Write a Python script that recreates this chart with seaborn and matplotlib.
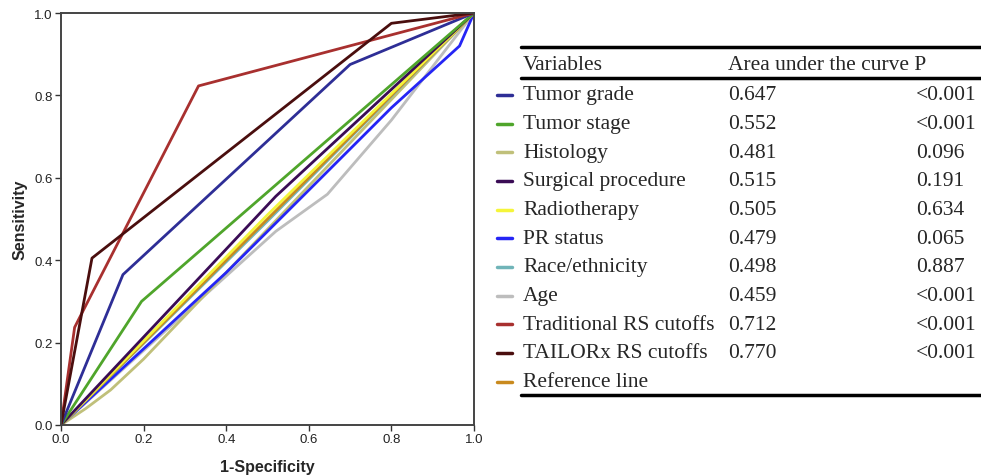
import numpy as np
import pandas as pd
import matplotlib
matplotlib.use("Agg")
import matplotlib.pyplot as plt
from matplotlib.lines import Line2D
import seaborn as sns

# ---- data ----
variables = ["Tumor grade", "Tumor stage", "Histology", "Surgical procedure",
             "Radiotherapy", "PR status", "Race/ethnicity", "Age",
             "Traditional RS cutoffs", "TAILORx RS cutoffs", "Reference line"]
auc = ["0.647", "0.552", "0.481", "0.515", "0.505", "0.479", "0.498", "0.459",
       "0.712", "0.770", ""]
pvals = ["<0.001", "<0.001", "0.096", "0.191", "0.634", "0.065", "0.887",
         "<0.001", "<0.001", "<0.001", ""]
colors = ["#2E2E96", "#4FA52B", "#C0C07A", "#3A0C55", "#F5F53A", "#2525F5",
          "#70B4B8", "#BDBDBD", "#A8302F", "#4A0E0E", "#C98A1E"]

fpr_grade = [0.0, 0.15, 0.70, 1.0]
tpr_grade = [0.0, 0.365, 0.875, 1.0]
fpr_stage = [0.0, 0.195, 1.0]
tpr_stage = [0.0, 0.30, 1.0]
fpr_hist = [0.0, 0.06, 0.12, 0.20, 1.0]
tpr_hist = [0.0, 0.04, 0.085, 0.16, 1.0]
fpr_surg = [0.0, 0.52, 1.0]
tpr_surg = [0.0, 0.555, 1.0]
fpr_radio = [0.0, 0.5, 1.0]
tpr_radio = [0.0, 0.51, 1.0]
fpr_pr = [0.0, 0.40, 0.65, 0.80, 0.965, 1.0]
tpr_pr = [0.0, 0.37, 0.62, 0.77, 0.92, 1.0]
fpr_race = [0.0, 0.5, 1.0]
tpr_race = [0.0, 0.495, 1.0]
fpr_age = [0.0, 0.52, 0.645, 0.80, 1.0]
tpr_age = [0.0, 0.47, 0.56, 0.74, 1.0]
fpr_trad = [0.0, 0.033, 0.06, 0.333, 1.0]
tpr_trad = [0.0, 0.237, 0.29, 0.823, 1.0]
fpr_tailor = [0.0, 0.075, 0.80, 1.0]
tpr_tailor = [0.0, 0.405, 0.975, 1.0]
fpr_ref = [0.0, 1.0]
tpr_ref = [0.0, 1.0]

curves = [(fpr_grade, tpr_grade), (fpr_stage, tpr_stage), (fpr_hist, tpr_hist),
          (fpr_surg, tpr_surg), (fpr_radio, tpr_radio), (fpr_pr, tpr_pr),
          (fpr_race, tpr_race), (fpr_age, tpr_age), (fpr_trad, tpr_trad),
          (fpr_tailor, tpr_tailor), (fpr_ref, tpr_ref)]

rows = []
for name, (xs, ys) in zip(variables, curves):
    for i, (x, y) in enumerate(zip(xs, ys)):
        rows.append({"var": name, "order": i, "fpr": x, "tpr": y})
df = pd.DataFrame(rows)

sns.set_theme(style="white")
plt.rcParams['font.family'] = ['Liberation Sans', 'DejaVu Sans']

fig = plt.figure(figsize=(9.81, 4.77), dpi=100)
ax = fig.add_axes([61/981, 51/477, 413/981, 412/477])

draw_order = ["Age", "Histology", "PR status", "Race/ethnicity", "Reference line",
              "Radiotherapy", "Surgical procedure", "Tumor stage", "Tumor grade",
              "Traditional RS cutoffs", "TAILORx RS cutoffs"]
pal = dict(zip(variables, colors))
for name in draw_order:
    sub = df[df["var"] == name]
    sns.lineplot(data=sub, x="fpr", y="tpr", color=pal[name], sort=False,
                 estimator=None, lw=2.0, ax=ax, legend=False)

ax.set_xlim(0, 1)
ax.set_ylim(0, 1)
ticks = [0.0, 0.2, 0.4, 0.6, 0.8, 1.0]
ax.set_xticks(ticks)
ax.set_yticks(ticks)
ax.set_xticklabels([f"{t:.1f}" for t in ticks], fontsize=9.5)
ax.set_yticklabels([f"{t:.1f}" for t in ticks], fontsize=9.5)
ax.tick_params(axis="both", which="both", direction="out", length=4, width=1,
               colors="#333333", bottom=True, left=True, pad=2)
for lab in ax.get_xticklabels() + ax.get_yticklabels():
    lab.set_color("#222222")
for s in ax.spines.values():
    s.set_color("#444444")
    s.set_linewidth(1.4)
ax.set_xlabel("1-Specificity", fontsize=11.5, fontweight="bold", labelpad=10)
ax.set_ylabel("Sensitivity", fontsize=11.5, fontweight="bold", labelpad=5)

# ---- table / legend ----
W, H = 981, 477
def fx(px): return px / W
def fy(py): return 1 - py / H

serif = ['Liberation Serif', 'DejaVu Serif']
for y, lw in [(48, 2.5), (79, 2.5), (396, 2.5)]:
    fig.add_artist(Line2D([fx(521), fx(981)], [fy(y), fy(y)], color="black",
                          lw=lw, transform=fig.transFigure))

fs = 15.5
fig.text(fx(523), fy(65), "Variables", family=serif, fontsize=fs, va="center")
fig.text(fx(728), fy(65), "Area under the curve P", family=serif, fontsize=fs,
         va="center")
row0, dy = 96, 28.65
for i, name in enumerate(variables):
    y = row0 + i * dy
    fig.add_artist(Line2D([fx(497), fx(512)], [fy(y), fy(y)], color=colors[i],
                          lw=2.5, transform=fig.transFigure))
    fig.text(fx(523), fy(y), name, family=serif, fontsize=fs, va="center")
    if auc[i]:
        fig.text(fx(728), fy(y), auc[i], family=serif, fontsize=fs, va="center")
        fig.text(fx(916), fy(y), pvals[i], family=serif, fontsize=fs, va="center")

fig.savefig("out.png", dpi=100)
